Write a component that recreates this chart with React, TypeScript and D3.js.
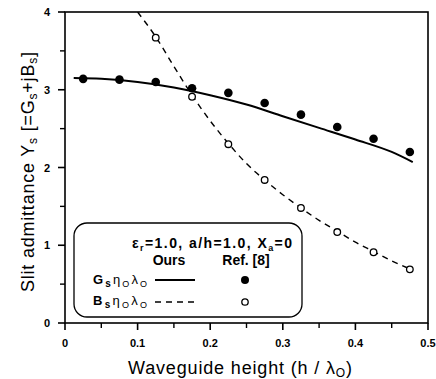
import React from "react";
import * as d3 from "d3";

// reference points (Ref. [8])
const refX = [0.025, 0.075, 0.125, 0.175, 0.225, 0.275, 0.325, 0.375, 0.425, 0.475];
const refG = [3.14, 3.13, 3.1, 3.02, 2.96, 2.83, 2.68, 2.52, 2.37, 2.2];
const refBX = [0.125, 0.175, 0.225, 0.275, 0.325, 0.375, 0.425, 0.475];
const refB = [3.67, 2.91, 2.3, 1.84, 1.48, 1.17, 0.91, 0.69];

// our curves
const oursGX = [0.012, 0.05, 0.1, 0.15, 0.2, 0.25, 0.3, 0.35, 0.4, 0.45, 0.479];
const oursG = [3.15, 3.14, 3.1, 3.03, 2.93, 2.81, 2.66, 2.51, 2.36, 2.2, 2.07];
const oursBX = [0.1, 0.125, 0.15, 0.175, 0.2, 0.225, 0.25, 0.275, 0.3, 0.325, 0.35, 0.375, 0.4, 0.425, 0.45, 0.479];
const oursB = [4.0, 3.68, 3.3, 2.93, 2.6, 2.31, 2.05, 1.84, 1.65, 1.48, 1.32, 1.18, 1.04, 0.92, 0.8, 0.68];

const xTicks = [0, 0.1, 0.2, 0.3, 0.4, 0.5];
const xMinor = [0.05, 0.15, 0.25, 0.35, 0.45];
const yTicks = [0, 1, 2, 3, 4];
const yMinor = [0.5, 1.5, 2.5, 3.5];

const W = 436;
const H = 379;
const font = "'Liberation Sans', Arial, sans-serif";

export default function App() {
  const x = d3.scaleLinear().domain([0, 0.5]).range([65, 428]);
  const y = d3.scaleLinear().domain([0, 4]).range([323, 12]);

  const line = d3
    .line<[number, number]>()
    .x((d) => x(d[0]))
    .y((d) => y(d[1]))
    .curve(d3.curveMonotoneX);

  const gPath = line(oursGX.map((v, i) => [v, oursG[i]]))!;
  const bPath = line(oursBX.map((v, i) => [v, oursB[i]]))!;

  const sub = (t: string) => (
    <tspan fontSize={9} dy={3}>{t}</tspan>
  );
  const up = (t: string) => (
    <tspan dy={-3}>{t}</tspan>
  );

  return (
    <svg width={W} height={H} style={{ position: "absolute", left: 0, top: 0 }} fontFamily={font}>
      <defs>
        <clipPath id="plot">
          <rect x={65} y={12} width={363} height={311} />
        </clipPath>
      </defs>
      <rect width={W} height={H} fill="#fff" />

      {/* frame */}
      <rect x={65} y={12} width={363} height={311} fill="none" stroke="#000" strokeWidth={1.6} />

      {/* x ticks */}
      {xTicks.map((t) => (
        <g key={"xt" + t}>
          <line x1={x(t)} x2={x(t)} y1={323} y2={330} stroke="#000" strokeWidth={1.6} />
          <text x={x(t)} y={347} textAnchor="middle" fontSize={11} fontWeight="bold">
            {t === 0 ? "0" : t.toFixed(1)}
          </text>
        </g>
      ))}
      {xMinor.map((t) => (
        <line key={"xm" + t} x1={x(t)} x2={x(t)} y1={323} y2={328} stroke="#000" strokeWidth={1.4} />
      ))}

      {/* y ticks */}
      {yTicks.map((t) => (
        <g key={"yt" + t}>
          <line x1={58} x2={65} y1={y(t)} y2={y(t)} stroke="#000" strokeWidth={1.6} />
          <text x={50} y={y(t) + 4} textAnchor="end" fontSize={11} fontWeight="bold">
            {t}
          </text>
        </g>
      ))}
      {yMinor.map((t) => (
        <line key={"ym" + t} x1={60} x2={65} y1={y(t)} y2={y(t)} stroke="#000" strokeWidth={1.4} />
      ))}

      {/* curves */}
      <g clipPath="url(#plot)">
        <path d={gPath} fill="none" stroke="#000" strokeWidth={2} />
        <path d={bPath} fill="none" stroke="#000" strokeWidth={1.4} strokeDasharray="6,5" />
      </g>

      {/* reference points */}
      {refX.map((v, i) => (
        <circle key={"g" + i} cx={x(v)} cy={y(refG[i])} r={4.3} fill="#000" />
      ))}
      {refBX.map((v, i) => (
        <circle key={"b" + i} cx={x(v)} cy={y(refB[i])} r={3.3} fill="#fff" stroke="#000" strokeWidth={1.3} />
      ))}

      {/* legend */}
      <rect x={74} y={223} width={228} height={94} rx={13} ry={13} fill="#fff" stroke="#000" strokeWidth={1.3} />
      <text x={132} y={248} fontSize={14} fontWeight="bold" textLength={160} lengthAdjust="spacing">
        ε<tspan fontSize={9} dy={3}>r</tspan>
        <tspan dy={-3}>=1.0, a/h=1.0, X</tspan>
        <tspan fontSize={9} dy={3}>a</tspan>
        <tspan dy={-3}>=0</tspan>
      </text>
      <text x={169} y={265} textAnchor="middle" fontSize={14} fontWeight="bold">Ours</text>
      <text x={246} y={265} textAnchor="middle" fontSize={14} fontWeight="bold">Ref. [8]</text>

      <text x={93} y={284} fontSize={13} textLength={54} lengthAdjust="spacing">
        <tspan fontWeight="bold">G</tspan>
        <tspan fontSize={10} dy={3} fontWeight="bold">s</tspan>
        {up("η")}
        {sub("O")}
        {up("λ")}
        {sub("O")}
      </text>
      <line x1={155} x2={195} y1={280} y2={280} stroke="#000" strokeWidth={2} />
      <circle cx={245} cy={280} r={4} fill="#000" />

      <text x={93} y={305} fontSize={13} textLength={54} lengthAdjust="spacing">
        <tspan fontWeight="bold">B</tspan>
        <tspan fontSize={10} dy={3} fontWeight="bold">s</tspan>
        {up("η")}
        {sub("O")}
        {up("λ")}
        {sub("O")}
      </text>
      <line x1={155} x2={197} y1={302} y2={302} stroke="#000" strokeWidth={1.4} strokeDasharray="6,5" />
      <circle cx={245} cy={302} r={3.2} fill="#fff" stroke="#000" strokeWidth={1.3} />

      {/* axis titles */}
      <text x={128} y={374} fontSize={18} textLength={224} lengthAdjust="spacing">
        Waveguide height (h / λ<tspan fontSize={12} dy={3}>O</tspan>
        <tspan dy={-3}>)</tspan>
      </text>
      <text transform="translate(34,292) rotate(-90)" fontSize={18} textLength={240} lengthAdjust="spacing">
        Slit admittance Y<tspan fontSize={12} dy={3}>s</tspan>
        <tspan dy={-3}> [=G</tspan>
        <tspan fontSize={12} dy={3}>s</tspan>
        <tspan dy={-3}>+jB</tspan>
        <tspan fontSize={12} dy={3}>s</tspan>
        <tspan dy={-3}>]</tspan>
      </text>
    </svg>
  );
}
